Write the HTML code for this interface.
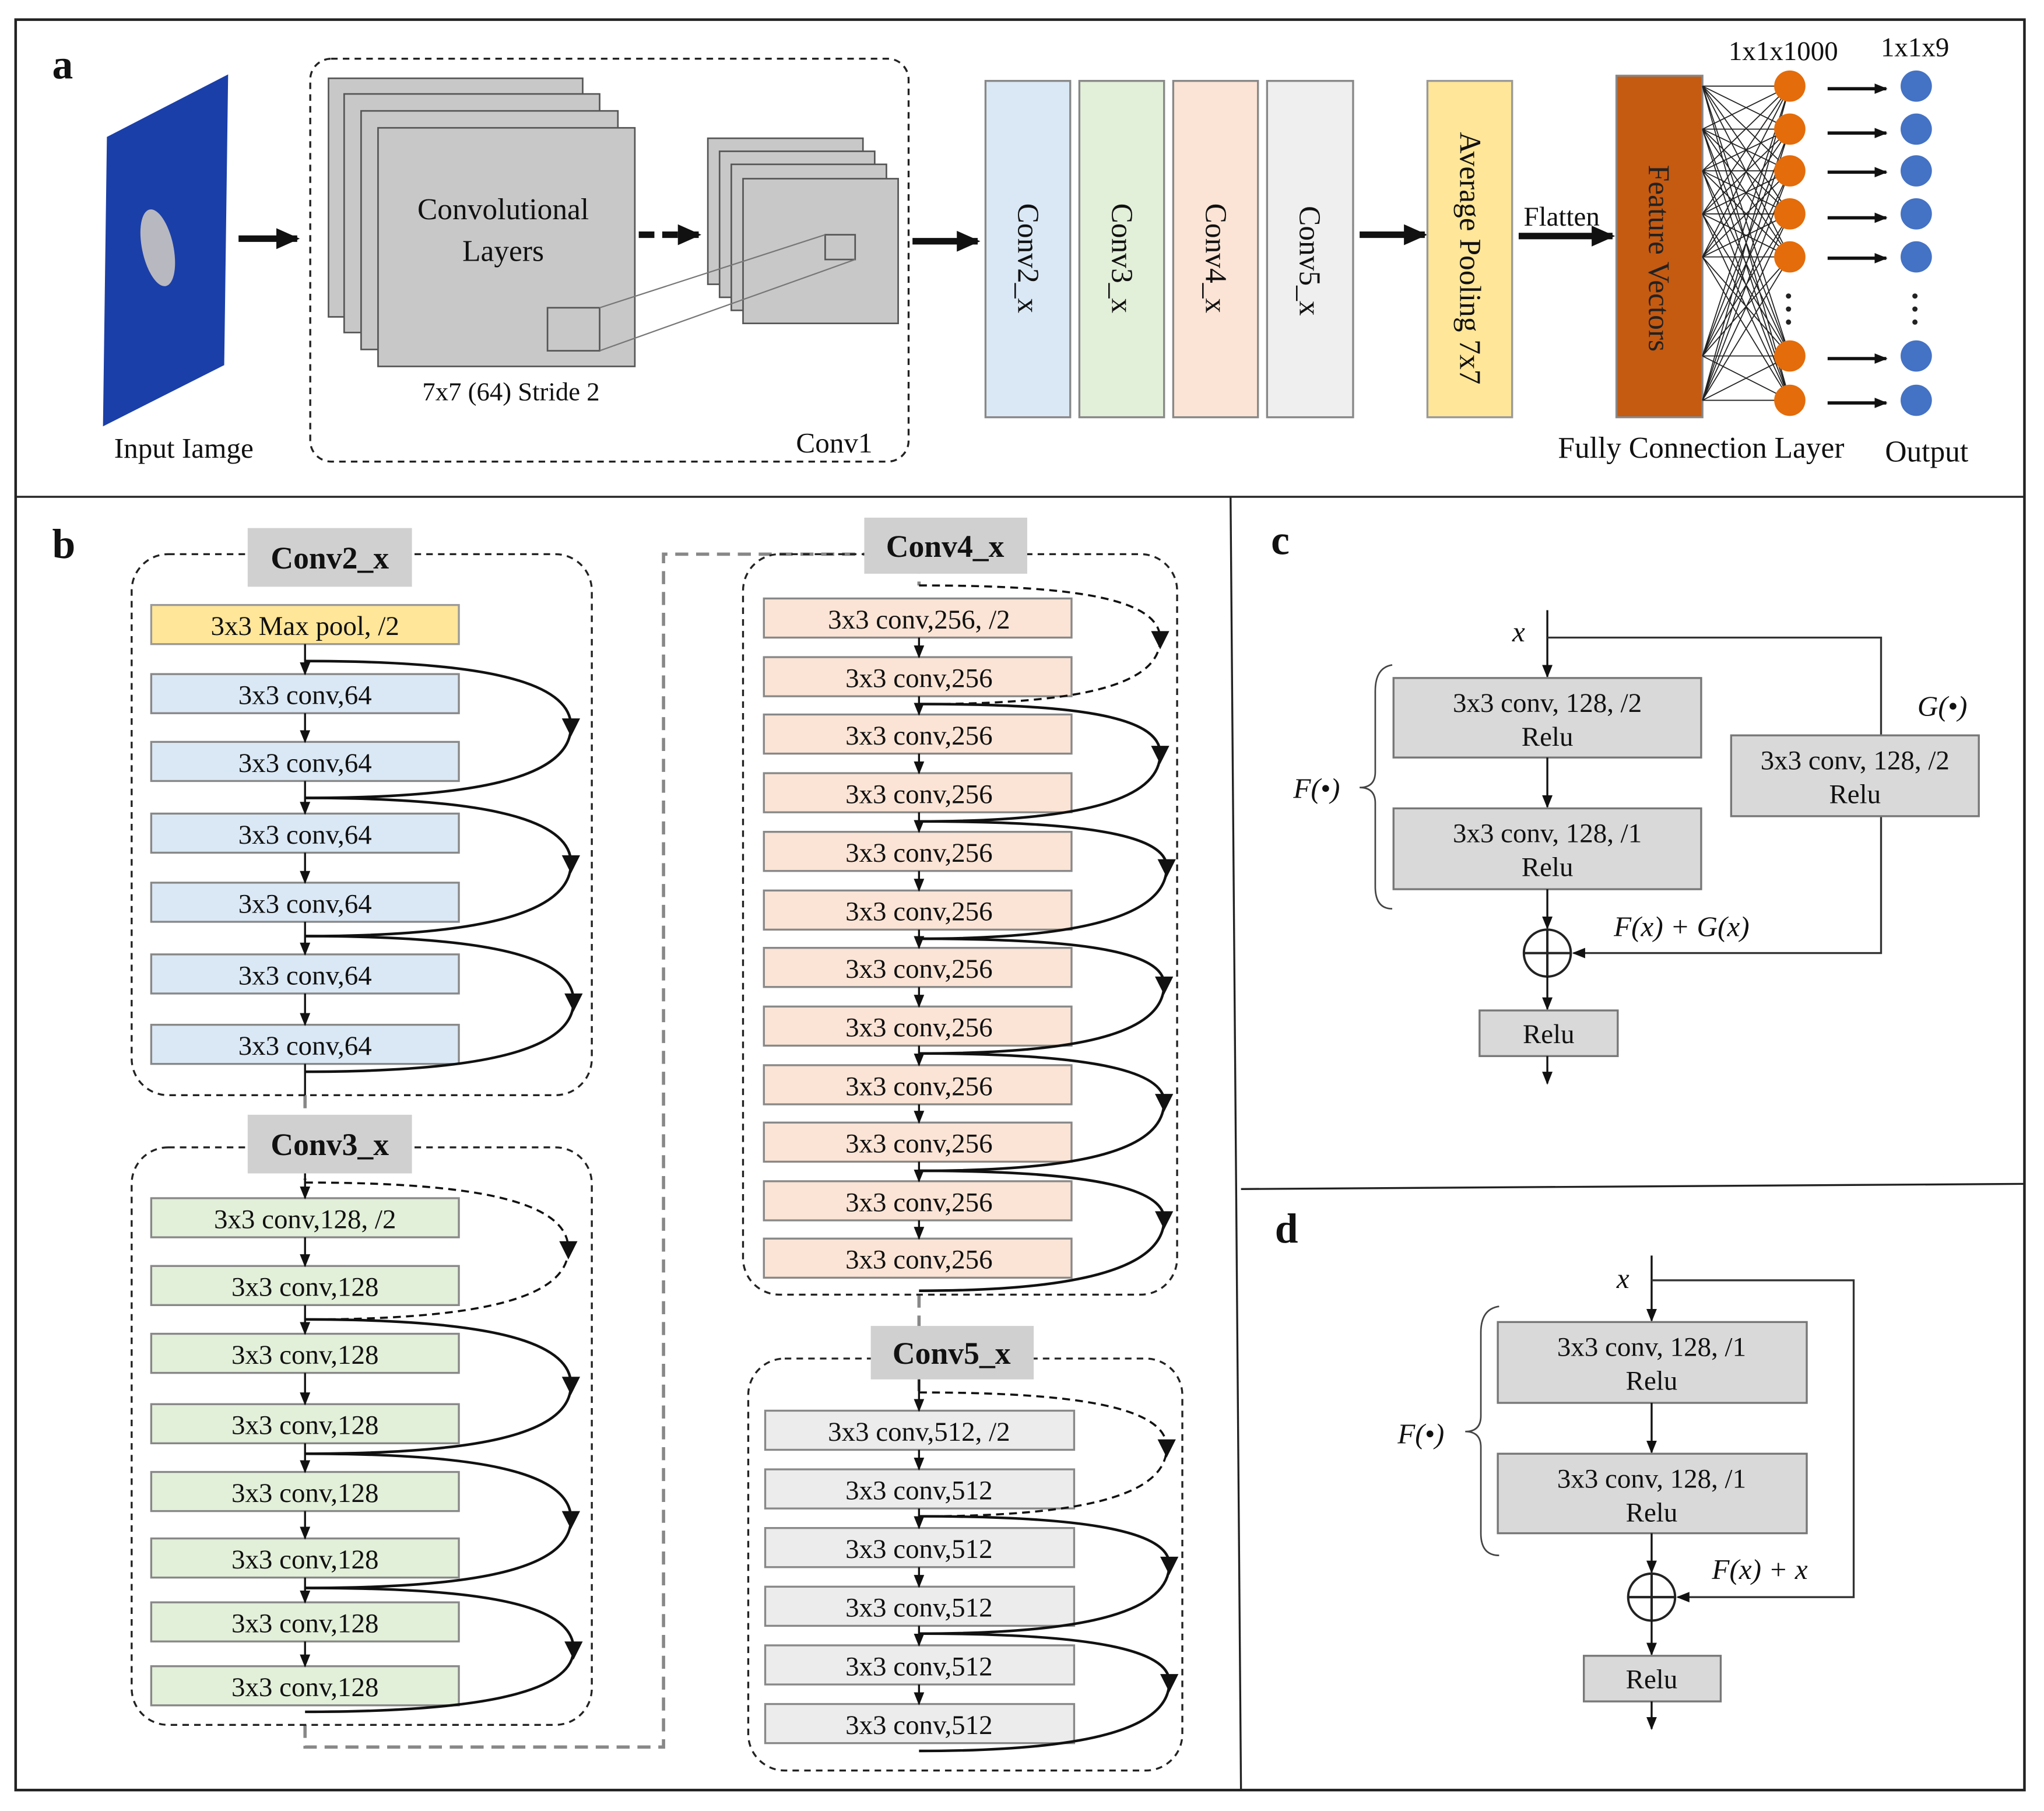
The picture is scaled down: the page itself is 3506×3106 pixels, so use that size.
<!DOCTYPE html>
<html><head><meta charset="utf-8"><style>
html,body{margin:0;padding:0;background:#fff}
svg{display:block}
text{font-family:"Liberation Serif",serif;fill:#111}
.bt{font-size:21px;text-anchor:middle}
.lb{font-size:24px;font-weight:bold;text-anchor:middle}
.ds{fill:none;stroke:#222;stroke-width:1.5;stroke-dasharray:5,4}
.b2{fill:#dae8f5;stroke:#888;stroke-width:1.5}
.b3{fill:#e2efd9;stroke:#888;stroke-width:1.5}
.b4{fill:#fbe4d5;stroke:#888;stroke-width:1.5}
.b5{fill:#ececec;stroke:#888;stroke-width:1.5}
.gb{fill:#d9d9d9;stroke:#777;stroke-width:1.5}
.sk{fill:none;stroke:#111;stroke-width:2;marker-mid:url(#am)}
.skd{fill:none;stroke:#111;stroke-width:1.6;stroke-dasharray:6,4;marker-mid:url(#am)}
.ar{stroke:#111;stroke-width:1.5;marker-end:url(#ah)}
.it{font-style:italic;font-size:22px}
</style></head><body>
<svg width="3506" height="3106" viewBox="0 0 1568 1389" xmlns="http://www.w3.org/2000/svg">
<defs>
<marker id="ah" markerWidth="10" markerHeight="10" refX="9" refY="5" orient="auto" markerUnits="userSpaceOnUse"><path d="M0,1 L10,5 L0,9 z" fill="#111"/></marker>
<marker id="am" markerWidth="16" markerHeight="16" refX="8" refY="8" orient="auto" markerUnits="userSpaceOnUse"><path d="M2,1 L16,8 L2,15 z" fill="#111"/></marker>
<marker id="big" markerWidth="20" markerHeight="20" refX="16" refY="10" orient="auto" markerUnits="userSpaceOnUse"><path d="M0,2 L18,10 L0,18 z" fill="#111"/></marker>
</defs>
<rect x="0" y="0" width="1568" height="1389" fill="#fff"/>
<!-- frame -->
<rect x="12" y="15" width="1541" height="1358" fill="none" stroke="#222" stroke-width="2"/>
<line x1="12" y1="381" x2="1553" y2="381" stroke="#222" stroke-width="1.5"/>
<line x1="944" y1="381" x2="952" y2="1373" stroke="#222" stroke-width="1.5"/>
<line x1="952" y1="912" x2="1553" y2="908" stroke="#222" stroke-width="1.5"/>

<!-- Panel a -->
<text x="40" y="60" style="font-size:32px;font-weight:bold">a</text>
<polygon points="82,105 175,57 172,280 79,327" fill="#1b3fa8"/>
<ellipse cx="121" cy="190" rx="12" ry="30" fill="#b8b8c0" transform="rotate(-12 121 190)"/>
<text x="141" y="351" style="font-size:22px;text-anchor:middle">Input Iamge</text>
<line x1="183" y1="183" x2="228" y2="183" stroke="#111" stroke-width="5" marker-end="url(#big)"/>
<rect x="238" y="45" width="459" height="309" rx="16" class="ds"/>
<rect x="252" y="60" width="195" height="183" fill="#c8c8c8" stroke="#555" stroke-width="1.2"/>
<rect x="264" y="72" width="196" height="183" fill="#c8c8c8" stroke="#555" stroke-width="1.2"/>
<rect x="277" y="85" width="197" height="183" fill="#c8c8c8" stroke="#555" stroke-width="1.2"/>
<rect x="290" y="98" width="197" height="183" fill="#c8c8c8" stroke="#555" stroke-width="1.2"/>
<text x="386" y="168" style="font-size:23px;text-anchor:middle">Convolutional</text>
<text x="386" y="200" style="font-size:23px;text-anchor:middle">Layers</text>
<rect x="420" y="236" width="40" height="33" fill="none" stroke="#555" stroke-width="1.2"/>
<text x="392" y="307" style="font-size:20px;text-anchor:middle">7x7 (64) Stride 2</text>
<line x1="490" y1="180" x2="536" y2="180" stroke="#111" stroke-width="5" stroke-dasharray="12,6" marker-end="url(#big)"/>
<rect x="543" y="106" width="119" height="112" fill="#c8c8c8" stroke="#555" stroke-width="1.2"/>
<rect x="552" y="116" width="119" height="112" fill="#c8c8c8" stroke="#555" stroke-width="1.2"/>
<rect x="561" y="126" width="119" height="112" fill="#c8c8c8" stroke="#555" stroke-width="1.2"/>
<rect x="570" y="137" width="119" height="111" fill="#c8c8c8" stroke="#555" stroke-width="1.2"/>
<rect x="633" y="180" width="23" height="19" fill="none" stroke="#555" stroke-width="1.2"/>
<line x1="460" y1="236" x2="633" y2="180" stroke="#777" stroke-width="1"/>
<line x1="460" y1="269" x2="656" y2="199" stroke="#777" stroke-width="1"/>
<text x="640" y="347" style="font-size:22px;text-anchor:middle">Conv1</text>
<line x1="700" y1="185" x2="750" y2="185" stroke="#111" stroke-width="5" marker-end="url(#big)"/>
<rect x="756" y="62" width="65" height="258" fill="#dae8f5" stroke="#888" stroke-width="1.5"/>
<rect x="828" y="62" width="65" height="258" fill="#e2efd9" stroke="#888" stroke-width="1.5"/>
<rect x="900" y="62" width="65" height="258" fill="#fbe4d5" stroke="#888" stroke-width="1.5"/>
<rect x="972" y="62" width="66" height="258" fill="#efefef" stroke="#888" stroke-width="1.5"/>
<text transform="translate(781,198) rotate(90)" style="font-size:23px;text-anchor:middle">Conv2_x</text>
<text transform="translate(853,198) rotate(90)" style="font-size:23px;text-anchor:middle">Conv3_x</text>
<text transform="translate(925,198) rotate(90)" style="font-size:23px;text-anchor:middle">Conv4_x</text>
<text transform="translate(997,200) rotate(90)" style="font-size:23px;text-anchor:middle">Conv5_x</text>
<line x1="1043" y1="180" x2="1093" y2="180" stroke="#111" stroke-width="5" marker-end="url(#big)"/>
<rect x="1095" y="62" width="65" height="258" fill="#ffe699" stroke="#999" stroke-width="1.5"/>
<text transform="translate(1120,198) rotate(90)" style="font-size:23px;text-anchor:middle">Average Pooling 7x7</text>
<text x="1198" y="173" style="font-size:21px;text-anchor:middle">Flatten</text>
<line x1="1165" y1="181" x2="1237" y2="181" stroke="#111" stroke-width="5" marker-end="url(#big)"/>
<rect x="1240" y="58" width="66" height="262" fill="#c55a11" stroke="#888" stroke-width="1.5"/>
<text transform="translate(1265,198) rotate(90)" style="font-size:23px;text-anchor:middle;fill:#222">Feature Vectors</text>
<path stroke="#222" stroke-width="0.8" fill="none" d="
M1306,66 L1373,66 M1306,66 L1373,99 M1306,66 L1373,131 M1306,66 L1373,164 M1306,66 L1373,197 M1306,66 L1373,273 M1306,66 L1373,307
M1306,99 L1373,66 M1306,99 L1373,99 M1306,99 L1373,131 M1306,99 L1373,164 M1306,99 L1373,197 M1306,99 L1373,273 M1306,99 L1373,307
M1306,131 L1373,66 M1306,131 L1373,99 M1306,131 L1373,131 M1306,131 L1373,164 M1306,131 L1373,197 M1306,131 L1373,273 M1306,131 L1373,307
M1306,164 L1373,66 M1306,164 L1373,99 M1306,164 L1373,131 M1306,164 L1373,164 M1306,164 L1373,197 M1306,164 L1373,273 M1306,164 L1373,307
M1306,197 L1373,66 M1306,197 L1373,99 M1306,197 L1373,131 M1306,197 L1373,164 M1306,197 L1373,197 M1306,197 L1373,273 M1306,197 L1373,307
M1306,273 L1373,66 M1306,273 L1373,99 M1306,273 L1373,131 M1306,273 L1373,164 M1306,273 L1373,197 M1306,273 L1373,273 M1306,273 L1373,307
M1306,307 L1373,66 M1306,307 L1373,99 M1306,307 L1373,131 M1306,307 L1373,164 M1306,307 L1373,197 M1306,307 L1373,273 M1306,307 L1373,307"/>
<g fill="#e46c0a">
<circle cx="1373" cy="66" r="12"/><circle cx="1373" cy="99" r="12"/><circle cx="1373" cy="131" r="12"/><circle cx="1373" cy="164" r="12"/><circle cx="1373" cy="197" r="12"/><circle cx="1373" cy="273" r="12"/><circle cx="1373" cy="307" r="12"/>
</g>
<g fill="#222"><circle cx="1372" cy="227" r="2"/><circle cx="1372" cy="237" r="2"/><circle cx="1372" cy="247" r="2"/>
<circle cx="1469" cy="227" r="2"/><circle cx="1469" cy="237" r="2"/><circle cx="1469" cy="247" r="2"/></g>
<g fill="#4472c4">
<circle cx="1470" cy="66" r="12"/><circle cx="1470" cy="99" r="12"/><circle cx="1470" cy="131" r="12"/><circle cx="1470" cy="164" r="12"/><circle cx="1470" cy="197" r="12"/><circle cx="1470" cy="273" r="12"/><circle cx="1470" cy="307" r="12"/>
</g>
<g stroke="#111" stroke-width="2.5" marker-end="url(#ah)">
<line x1="1402" y1="68" x2="1447" y2="68"/><line x1="1402" y1="102" x2="1447" y2="102"/><line x1="1402" y1="132" x2="1447" y2="132"/><line x1="1402" y1="167" x2="1447" y2="167"/><line x1="1402" y1="198" x2="1447" y2="198"/><line x1="1402" y1="275" x2="1447" y2="275"/><line x1="1402" y1="309" x2="1447" y2="309"/>
</g>
<text x="1368" y="46" style="font-size:21px;text-anchor:middle">1x1x1000</text>
<text x="1469" y="43" style="font-size:21px;text-anchor:middle">1x1x9</text>
<text x="1305" y="351" style="font-size:23px;text-anchor:middle">Fully Connection Layer</text>
<text x="1478" y="354" style="font-size:23px;text-anchor:middle">Output</text>

<!-- Panel b -->
<text x="40" y="428" style="font-size:32px;font-weight:bold">b</text>
<!-- grey dashed connectors -->
<path d="M234,840 L234,905 M234,1323 L234,1340 L509,1340 L509,425 L705,425 L705,449 M705,993 L705,1068" fill="none" stroke="#888" stroke-width="2.5" stroke-dasharray="10,6"/>

<!-- Conv2_x -->
<rect x="101" y="425" width="353" height="415" rx="28" class="ds"/>
<rect x="190" y="405" width="126" height="45" fill="#d0d0d0"/>
<text x="253" y="436" class="lb">Conv2_x</text>
<rect x="116" y="464" width="236" height="30" fill="#ffe699" stroke="#999" stroke-width="1.5"/>
<text x="234" y="487" class="bt">3x3 Max pool, /2</text>
<rect x="116" y="517" width="236" height="30" class="b2"/><text x="234" y="540" class="bt">3x3 conv,64</text>
<rect x="116" y="569" width="236" height="30" class="b2"/><text x="234" y="592" class="bt">3x3 conv,64</text>
<rect x="116" y="624" width="236" height="30" class="b2"/><text x="234" y="647" class="bt">3x3 conv,64</text>
<rect x="116" y="677" width="236" height="30" class="b2"/><text x="234" y="700" class="bt">3x3 conv,64</text>
<rect x="116" y="732" width="236" height="30" class="b2"/><text x="234" y="755" class="bt">3x3 conv,64</text>
<rect x="116" y="786" width="236" height="30" class="b2"/><text x="234" y="809" class="bt">3x3 conv,64</text>
<line x1="234" y1="494" x2="234" y2="517" class="ar"/>
<line x1="234" y1="547" x2="234" y2="569" class="ar"/>
<line x1="234" y1="599" x2="234" y2="624" class="ar"/>
<line x1="234" y1="654" x2="234" y2="677" class="ar"/>
<line x1="234" y1="707" x2="234" y2="732" class="ar"/>
<line x1="234" y1="762" x2="234" y2="786" class="ar"/>
<line x1="234" y1="816" x2="234" y2="840" stroke="#111" stroke-width="1.5"/>
<path class="sk" d="M234,507 C360,507 438,520 438,557 C438,598 360,612 234,612"/>
<path class="sk" d="M234,612 C360,612 438,625 438,662 C438,703 360,718 234,718"/>
<path class="sk" d="M234,718 C360,718 440,730 440,768 C440,808 360,822 234,822"/>

<!-- Conv3_x -->
<rect x="101" y="880" width="353" height="443" rx="28" class="ds"/>
<rect x="190" y="855" width="126" height="45" fill="#d0d0d0"/>
<text x="253" y="886" class="lb">Conv3_x</text>
<rect x="116" y="919" width="236" height="30" class="b3"/><text x="234" y="942" class="bt">3x3 conv,128, /2</text>
<rect x="116" y="971" width="236" height="30" class="b3"/><text x="234" y="994" class="bt">3x3 conv,128</text>
<rect x="116" y="1023" width="236" height="30" class="b3"/><text x="234" y="1046" class="bt">3x3 conv,128</text>
<rect x="116" y="1077" width="236" height="30" class="b3"/><text x="234" y="1100" class="bt">3x3 conv,128</text>
<rect x="116" y="1129" width="236" height="30" class="b3"/><text x="234" y="1152" class="bt">3x3 conv,128</text>
<rect x="116" y="1180" width="236" height="30" class="b3"/><text x="234" y="1203" class="bt">3x3 conv,128</text>
<rect x="116" y="1229" width="236" height="30" class="b3"/><text x="234" y="1252" class="bt">3x3 conv,128</text>
<rect x="116" y="1278" width="236" height="30" class="b3"/><text x="234" y="1301" class="bt">3x3 conv,128</text>
<line x1="234" y1="900" x2="234" y2="919" class="ar"/>
<line x1="234" y1="949" x2="234" y2="971" class="ar"/>
<line x1="234" y1="1001" x2="234" y2="1023" class="ar"/>
<line x1="234" y1="1053" x2="234" y2="1077" class="ar"/>
<line x1="234" y1="1107" x2="234" y2="1129" class="ar"/>
<line x1="234" y1="1159" x2="234" y2="1180" class="ar"/>
<line x1="234" y1="1210" x2="234" y2="1229" class="ar"/>
<line x1="234" y1="1259" x2="234" y2="1278" class="ar"/>
<path class="skd" d="M234,907 C360,907 436,920 436,958 C436,998 360,1012 234,1012"/>
<path class="sk" d="M234,1012 C360,1012 438,1025 438,1062 C438,1102 360,1115 234,1115"/>
<path class="sk" d="M234,1115 C360,1115 438,1127 438,1165 C438,1205 360,1218 234,1218"/>
<path class="sk" d="M234,1218 C360,1218 440,1228 440,1265 C440,1300 360,1313 234,1313"/>

<!-- Conv4_x -->
<rect x="570" y="425" width="333" height="568" rx="28" class="ds"/>
<rect x="663" y="397" width="125" height="43" fill="#d0d0d0"/>
<text x="725" y="427" class="lb">Conv4_x</text>
<rect x="586" y="459" width="236" height="30" class="b4"/><text x="705" y="482" class="bt">3x3 conv,256, /2</text>
<rect x="586" y="504" width="236" height="30" class="b4"/><text x="705" y="527" class="bt">3x3 conv,256</text>
<rect x="586" y="548" width="236" height="30" class="b4"/><text x="705" y="571" class="bt">3x3 conv,256</text>
<rect x="586" y="593" width="236" height="30" class="b4"/><text x="705" y="616" class="bt">3x3 conv,256</text>
<rect x="586" y="638" width="236" height="30" class="b4"/><text x="705" y="661" class="bt">3x3 conv,256</text>
<rect x="586" y="683" width="236" height="30" class="b4"/><text x="705" y="706" class="bt">3x3 conv,256</text>
<rect x="586" y="727" width="236" height="30" class="b4"/><text x="705" y="750" class="bt">3x3 conv,256</text>
<rect x="586" y="772" width="236" height="30" class="b4"/><text x="705" y="795" class="bt">3x3 conv,256</text>
<rect x="586" y="817" width="236" height="30" class="b4"/><text x="705" y="840" class="bt">3x3 conv,256</text>
<rect x="586" y="861" width="236" height="30" class="b4"/><text x="705" y="884" class="bt">3x3 conv,256</text>
<rect x="586" y="906" width="236" height="30" class="b4"/><text x="705" y="929" class="bt">3x3 conv,256</text>
<rect x="586" y="950" width="236" height="30" class="b4"/><text x="705" y="973" class="bt">3x3 conv,256</text>
<line x1="705" y1="489" x2="705" y2="504" class="ar"/>
<line x1="705" y1="534" x2="705" y2="548" class="ar"/>
<line x1="705" y1="578" x2="705" y2="593" class="ar"/>
<line x1="705" y1="623" x2="705" y2="638" class="ar"/>
<line x1="705" y1="668" x2="705" y2="683" class="ar"/>
<line x1="705" y1="713" x2="705" y2="727" class="ar"/>
<line x1="705" y1="757" x2="705" y2="772" class="ar"/>
<line x1="705" y1="802" x2="705" y2="817" class="ar"/>
<line x1="705" y1="847" x2="705" y2="861" class="ar"/>
<line x1="705" y1="891" x2="705" y2="906" class="ar"/>
<line x1="705" y1="936" x2="705" y2="950" class="ar"/>
<path class="skd" d="M705,449 C820,449 890,458 890,490 C890,528 820,540 705,540"/>
<path class="sk" d="M705,540 C820,540 890,548 890,578 C890,616 820,630 705,630"/>
<path class="sk" d="M705,630 C820,630 895,638 895,665 C895,705 820,720 705,720"/>
<path class="sk" d="M705,720 C820,720 893,728 893,755 C893,795 820,808 705,808"/>
<path class="sk" d="M705,808 C820,808 893,818 893,845 C893,885 820,898 705,898"/>
<path class="sk" d="M705,898 C820,898 893,908 893,935 C893,975 820,990 705,990"/>

<!-- Conv5_x -->
<rect x="574" y="1042" width="333" height="316" rx="28" class="ds"/>
<rect x="668" y="1017" width="125" height="41" fill="#d0d0d0"/>
<text x="730" y="1046" class="lb">Conv5_x</text>
<rect x="587" y="1082" width="237" height="30" class="b5"/><text x="705" y="1105" class="bt">3x3 conv,512, /2</text>
<rect x="587" y="1127" width="237" height="30" class="b5"/><text x="705" y="1150" class="bt">3x3 conv,512</text>
<rect x="587" y="1172" width="237" height="30" class="b5"/><text x="705" y="1195" class="bt">3x3 conv,512</text>
<rect x="587" y="1217" width="237" height="30" class="b5"/><text x="705" y="1240" class="bt">3x3 conv,512</text>
<rect x="587" y="1262" width="237" height="30" class="b5"/><text x="705" y="1285" class="bt">3x3 conv,512</text>
<rect x="587" y="1307" width="237" height="30" class="b5"/><text x="705" y="1330" class="bt">3x3 conv,512</text>
<line x1="705" y1="1058" x2="705" y2="1082" class="ar"/>
<line x1="705" y1="1112" x2="705" y2="1127" class="ar"/>
<line x1="705" y1="1157" x2="705" y2="1172" class="ar"/>
<line x1="705" y1="1202" x2="705" y2="1217" class="ar"/>
<line x1="705" y1="1247" x2="705" y2="1262" class="ar"/>
<line x1="705" y1="1292" x2="705" y2="1307" class="ar"/>
<path class="skd" d="M705,1068 C820,1068 895,1078 895,1110 C895,1150 820,1163 705,1163"/>
<path class="sk" d="M705,1163 C820,1163 897,1172 897,1200 C897,1240 820,1253 705,1253"/>
<path class="sk" d="M705,1253 C820,1253 897,1262 897,1290 C897,1330 820,1343 705,1343"/>

<!-- Panel c -->
<text x="975" y="425" style="font-size:32px;font-weight:bold">c</text>
<text x="1165" y="492" class="it" text-anchor="middle">x</text>
<line x1="1187" y1="468" x2="1187" y2="519" class="ar"/>
<polyline points="1187,489 1443,489 1443,731 1207,731" fill="none" stroke="#333" stroke-width="1.5" marker-end="url(#ah)"/>
<rect x="1069" y="520" width="236" height="61" class="gb"/>
<text x="1187" y="546" class="bt">3x3 conv, 128,  /2</text><text x="1187" y="572" class="bt">Relu</text>
<line x1="1187" y1="581" x2="1187" y2="619" class="ar"/>
<rect x="1069" y="620" width="236" height="62" class="gb"/>
<text x="1187" y="646" class="bt">3x3 conv, 128,  /1</text><text x="1187" y="672" class="bt">Relu</text>
<line x1="1187" y1="682" x2="1187" y2="712" class="ar"/>
<rect x="1328" y="564" width="190" height="62" class="gb"/>
<text x="1423" y="590" class="bt">3x3 conv, 128,  /2</text><text x="1423" y="616" class="bt">Relu</text>
<text x="1490" y="549" class="it" text-anchor="middle">G(•)</text>
<text x="1010" y="612" class="it" text-anchor="middle">F(•)</text>
<path d="M1068,510 Q1055,512 1055,530 L1055,592 Q1055,604 1043,604 Q1055,604 1055,616 L1055,680 Q1055,697 1068,697" fill="none" stroke="#444" stroke-width="1.2"/>
<circle cx="1187" cy="731" r="18" fill="none" stroke="#222" stroke-width="1.8"/>
<line x1="1169" y1="731" x2="1205" y2="731" stroke="#222" stroke-width="1.8"/>
<line x1="1187" y1="713" x2="1187" y2="749" stroke="#222" stroke-width="1.8"/>
<text x="1290" y="718" class="it" text-anchor="middle">F(x) + G(x)</text>
<line x1="1187" y1="749" x2="1187" y2="774" class="ar"/>
<rect x="1135" y="775" width="106" height="35" class="gb"/>
<text x="1188" y="800" class="bt">Relu</text>
<line x1="1187" y1="810" x2="1187" y2="831" class="ar"/>

<!-- Panel d -->
<text x="978" y="953" style="font-size:32px;font-weight:bold">d</text>
<text x="1245" y="988" class="it" text-anchor="middle">x</text>
<line x1="1267" y1="963" x2="1267" y2="1013" class="ar"/>
<polyline points="1267,982 1422,982 1422,1225 1287,1225" fill="none" stroke="#333" stroke-width="1.5" marker-end="url(#ah)"/>
<rect x="1149" y="1014" width="237" height="62" class="gb"/>
<text x="1267" y="1040" class="bt">3x3 conv, 128,  /1</text><text x="1267" y="1066" class="bt">Relu</text>
<line x1="1267" y1="1076" x2="1267" y2="1114" class="ar"/>
<rect x="1149" y="1115" width="237" height="61" class="gb"/>
<text x="1267" y="1141" class="bt">3x3 conv, 128,  /1</text><text x="1267" y="1167" class="bt">Relu</text>
<line x1="1267" y1="1176" x2="1267" y2="1206" class="ar"/>
<text x="1090" y="1107" class="it" text-anchor="middle">F(•)</text>
<path d="M1150,1002 Q1136,1004 1136,1022 L1136,1086 Q1136,1098 1124,1098 Q1136,1098 1136,1110 L1136,1176 Q1136,1193 1150,1193" fill="none" stroke="#444" stroke-width="1.2"/>
<circle cx="1267" cy="1225" r="18" fill="none" stroke="#222" stroke-width="1.8"/>
<line x1="1249" y1="1225" x2="1285" y2="1225" stroke="#222" stroke-width="1.8"/>
<line x1="1267" y1="1207" x2="1267" y2="1243" stroke="#222" stroke-width="1.8"/>
<text x="1350" y="1211" class="it" text-anchor="middle">F(x) + x</text>
<line x1="1267" y1="1243" x2="1267" y2="1269" class="ar"/>
<rect x="1215" y="1270" width="105" height="35" class="gb"/>
<text x="1267" y="1295" class="bt">Relu</text>
<line x1="1267" y1="1305" x2="1267" y2="1326" class="ar"/>
</svg>
</body></html>
